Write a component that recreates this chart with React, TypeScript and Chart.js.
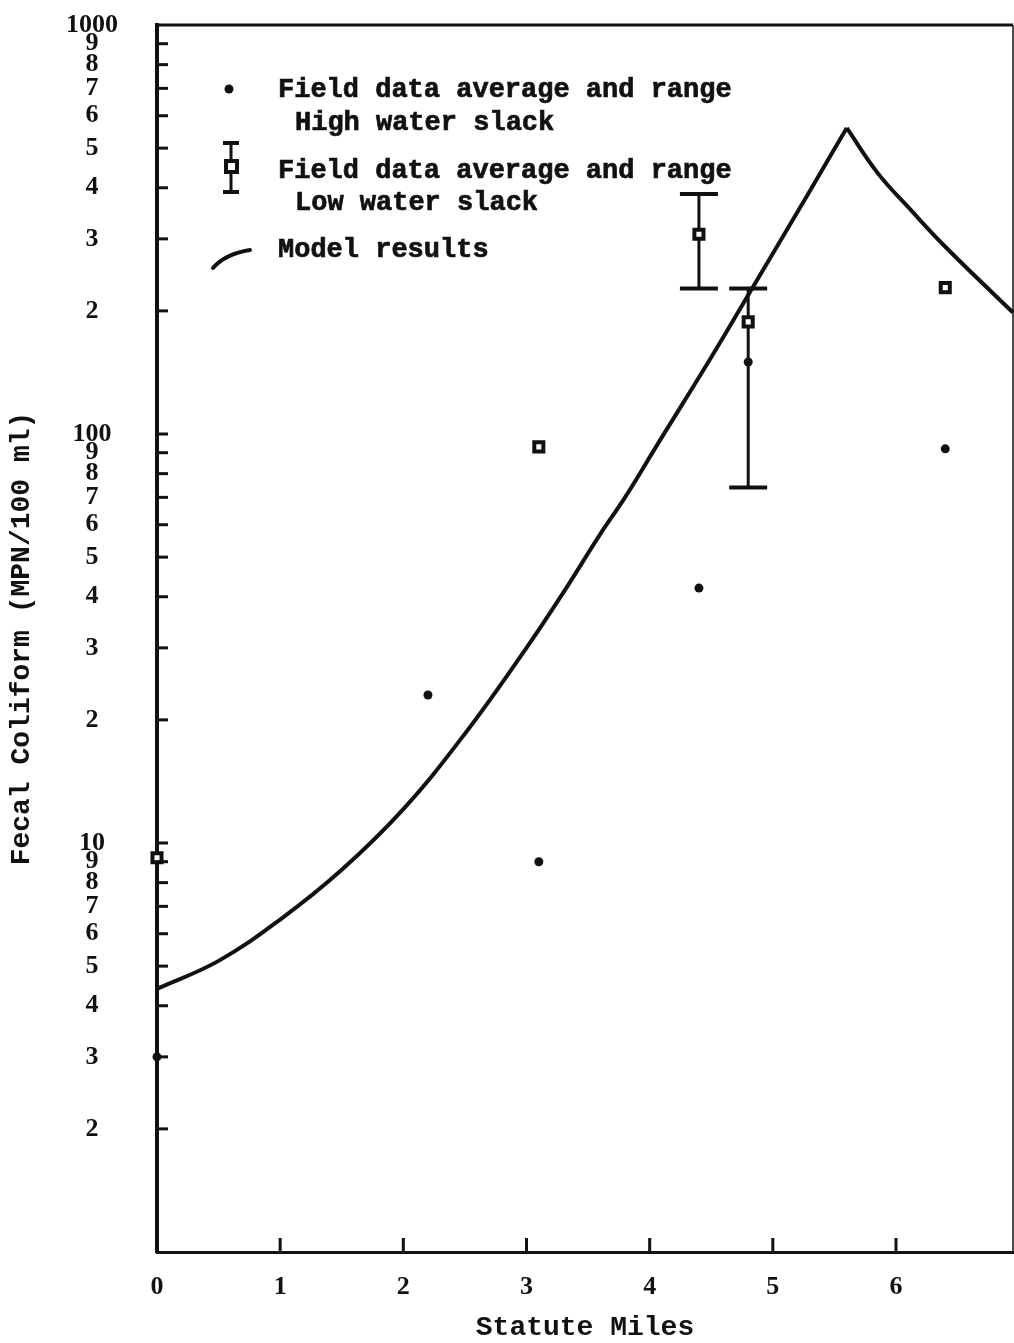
import React, { useEffect, useRef } from 'react';
import { Chart, registerables } from 'chart.js';

Chart.register(...registerables);

const INK = '#111111';

// Field data, high water slack (average values)
const highMiles = [0, 2.2, 3.1, 4.4, 4.8, 6.4];
const highColiform = [3, 23, 9, 42, 150, 92];

// Field data, low water slack (average, with sampled range where available)
const lowMiles = [0, 3.1, 4.4, 4.8, 6.4];
const lowColiform = [9.2, 93, 308, 188, 228];
const lowRangeMin: (number | null)[] = [null, null, 227, 74, null];
const lowRangeMax: (number | null)[] = [null, null, 386, 227, null];

// Model results along the estuary
const modelMiles = [0, 0.5, 1.0, 1.5, 2.0, 2.5, 3.0, 3.3, 3.6, 3.8, 4.07, 4.5, 4.84, 5.29, 5.6, 5.85, 6.12, 6.4, 6.95];
const modelColiform = [4.4, 5.15, 6.5, 8.6, 12.1, 18.5, 30, 41, 57, 70, 95, 154, 229, 388, 560, 435, 353, 287, 198];

// Axis ticks
const xTickValues = [0, 1, 2, 3, 4, 5, 6];
const xTickLabels = ['0', '1', '2', '3', '4', '5', '6'];
const yTickValues = [
  1, 2, 3, 4, 5, 6, 7, 8, 9,
  10, 20, 30, 40, 50, 60, 70, 80, 90,
  100, 200, 300, 400, 500, 600, 700, 800, 900,
  1000,
];
const yTickLabels = [
  '', '2', '3', '4', '5', '6', '7', '8', '9',
  '10', '2', '3', '4', '5', '6', '7', '8', '9',
  '100', '2', '3', '4', '5', '6', '7', '8', '9',
  '1000',
];

const toPoints = (xs: number[], ys: number[]) => xs.map((x, i) => ({ x, y: ys[i] }));

// The model curve has a sharp crest, so it is drawn as two smooth runs meeting at the maximum
const peakIndex = modelColiform.indexOf(Math.max(...modelColiform));
const modelRise = toPoints(modelMiles.slice(0, peakIndex + 1), modelColiform.slice(0, peakIndex + 1));
const modelFall = toPoints(modelMiles.slice(peakIndex), modelColiform.slice(peakIndex));

const TICK_FONT = { family: 'Liberation Serif', size: 26, weight: 'bold' as const, lineHeight: 1.2 };
const TITLE_FONT = { family: 'Liberation Mono', size: 28, weight: 'bold' as const, lineHeight: 1 };
const LEGEND_FONT = 'bold 27px "Liberation Mono"';

// Keep the plot edges where the layout padding puts them
const noLabelOverflow = (scale: any) => {
  scale.paddingTop = 0;
  scale.paddingBottom = 0;
  scale.paddingLeft = 0;
  scale.paddingRight = 0;
};

// Frame top/right edges and the inward tick marks
const framePlugin = {
  id: 'frameAndTicks',
  afterDraw(chart: any) {
    const { ctx, chartArea: a, scales } = chart;
    ctx.save();
    ctx.strokeStyle = INK;
    ctx.lineCap = 'butt';
    ctx.lineWidth = 3;
    ctx.beginPath();
    ctx.moveTo(a.left - 2, a.top);
    ctx.lineTo(a.right, a.top);
    ctx.stroke();
    ctx.lineWidth = 1.5;
    ctx.beginPath();
    ctx.moveTo(a.right, a.top);
    ctx.lineTo(a.right, a.bottom);
    ctx.stroke();

    ctx.lineWidth = 3;
    yTickValues.forEach((v) => {
      if (v === 1 || v === 1000) return;
      const y = scales.y.getPixelForValue(v);
      ctx.beginPath();
      ctx.moveTo(a.left, y);
      ctx.lineTo(a.left + 11, y);
      ctx.stroke();
    });
    xTickValues.forEach((v) => {
      if (v === 0) return;
      const x = scales.x.getPixelForValue(v);
      ctx.beginPath();
      ctx.moveTo(x, a.bottom);
      ctx.lineTo(x, a.bottom - 14);
      ctx.stroke();
    });
    ctx.restore();
  },
};

// Range bars for the low water slack averages
const rangePlugin = {
  id: 'lowWaterRange',
  beforeDatasetsDraw(chart: any) {
    const { ctx, scales } = chart;
    ctx.save();
    ctx.strokeStyle = INK;
    lowMiles.forEach((m, i) => {
      const lo = lowRangeMin[i];
      const hi = lowRangeMax[i];
      if (lo == null || hi == null) return;
      const x = scales.x.getPixelForValue(m);
      const yLo = scales.y.getPixelForValue(lo);
      const yHi = scales.y.getPixelForValue(hi);
      ctx.lineWidth = 3;
      ctx.beginPath();
      ctx.moveTo(x, yHi);
      ctx.lineTo(x, yLo);
      ctx.stroke();
      ctx.lineWidth = 4;
      ctx.beginPath();
      ctx.moveTo(x - 19, yHi);
      ctx.lineTo(x + 19, yHi);
      ctx.moveTo(x - 19, yLo);
      ctx.lineTo(x + 19, yLo);
      ctx.stroke();
    });
    ctx.restore();
  },
};

// Key in the upper left of the plot
const keyPlugin = {
  id: 'fieldKey',
  afterDraw(chart: any) {
    const { ctx, chartArea: a } = chart;
    const L = a.left;
    const T = a.top;
    ctx.save();
    ctx.fillStyle = INK;
    ctx.strokeStyle = INK;

    // high water dot
    ctx.beginPath();
    ctx.arc(L + 72, T + 64, 4.5, 0, Math.PI * 2);
    ctx.fill();

    // low water symbol with range
    const sx = L + 74;
    ctx.lineWidth = 3;
    ctx.beginPath();
    ctx.moveTo(sx, T + 118);
    ctx.lineTo(sx, T + 167);
    ctx.stroke();
    ctx.lineWidth = 4;
    ctx.beginPath();
    ctx.moveTo(sx - 8, T + 118);
    ctx.lineTo(sx + 8, T + 118);
    ctx.moveTo(sx - 8, T + 167);
    ctx.lineTo(sx + 8, T + 167);
    ctx.stroke();
    ctx.fillStyle = '#ffffff';
    ctx.fillRect(sx - 5, T + 136, 11, 11);
    ctx.strokeRect(sx - 5, T + 136, 11, 11);
    ctx.fillStyle = INK;

    // model line sample
    ctx.lineWidth = 4;
    ctx.lineCap = 'round';
    ctx.beginPath();
    ctx.moveTo(L + 56, T + 243);
    ctx.quadraticCurveTo(L + 68, T + 229, L + 93, T + 225);
    ctx.stroke();

    ctx.font = LEGEND_FONT;
    ctx.textBaseline = 'middle';
    ctx.textAlign = 'left';
    ctx.lineWidth = 0.7;
    const rows: [string, number, number][] = [
      ['Field data average and range', 121, 65],
      ['High water slack', 138, 98],
      ['Field data average and range', 121, 146],
      ['Low water slack', 138, 178],
      ['Model results', 121, 225],
    ];
    rows.forEach(([text, dx, dy]) => {
      ctx.fillText(text, L + dx, T + dy);
      ctx.strokeText(text, L + dx, T + dy);
    });
    ctx.restore();
  },
};

export default function App() {
  const canvasRef = useRef<HTMLCanvasElement | null>(null);

  useEffect(() => {
    if (!canvasRef.current) return;
    const chart = new Chart(canvasRef.current, {
      type: 'scatter',
      data: {
        datasets: [
          {
            label: 'Model results',
            data: modelRise,
            showLine: true,
            borderColor: INK,
            borderWidth: 4,
            pointRadius: 0,
            tension: 0.4,
            clip: false,
          },
          {
            label: 'Model results (after crest)',
            data: modelFall,
            showLine: true,
            borderColor: INK,
            borderWidth: 4,
            pointRadius: 0,
            tension: 0.4,
            clip: false,
          },
          {
            label: 'Field data average and range, Low water slack',
            data: toPoints(lowMiles, lowColiform),
            pointStyle: 'rect',
            pointRadius: 6.4,
            pointBorderWidth: 4,
            pointBackgroundColor: '#ffffff',
            pointBorderColor: INK,
            clip: false,
          },
          {
            label: 'Field data average and range, High water slack',
            data: toPoints(highMiles, highColiform),
            pointStyle: 'circle',
            pointRadius: 4.5,
            pointBorderWidth: 0,
            pointBackgroundColor: INK,
            clip: false,
          },
        ],
      } as any,
      options: {
        animation: false,
        responsive: false,
        events: [],
        layout: { autoPadding: false, padding: { top: 25, right: 1, bottom: 0, left: 0 } },
        plugins: {
          legend: { display: false },
          tooltip: { enabled: false },
        },
        scales: {
          x: {
            type: 'linear',
            min: 0,
            max: 6.95,
            afterBuildTicks: (scale: any) => {
              scale.ticks = xTickValues.map((value) => ({ value }));
            },
            afterFit: (scale: any) => {
              scale.height = 91;
              noLabelOverflow(scale);
            },
            grid: { display: false, drawTicks: false },
            border: { display: true, width: 3, color: INK },
            ticks: {
              autoSkip: false,
              maxRotation: 0,
              padding: 20,
              color: INK,
              font: TICK_FONT,
              callback: (_v: any, i: number) => xTickLabels[i],
            },
            title: {
              display: true,
              text: 'Statute Miles',
              color: INK,
              font: TITLE_FONT,
              padding: { top: 0, bottom: 1 },
            },
          },
          y: {
            type: 'logarithmic',
            min: 1,
            max: 1000,
            afterBuildTicks: (scale: any) => {
              scale.ticks = yTickValues.map((value) => ({ value }));
            },
            afterFit: (scale: any) => {
              scale.width = 157;
              noLabelOverflow(scale);
            },
            grid: { display: false, drawTicks: false },
            border: { display: true, width: 4, color: INK },
            ticks: {
              autoSkip: false,
              crossAlign: 'center',
              padding: 39,
              color: INK,
              font: TICK_FONT,
              callback: (_v: any, i: number) => yTickLabels[i],
            },
            title: {
              display: true,
              text: 'Fecal Coliform (MPN/100 ml)',
              color: INK,
              font: TITLE_FONT,
              padding: { top: 8, bottom: 0 },
            },
          },
        },
      } as any,
      plugins: [rangePlugin, framePlugin, keyPlugin],
    });
    return () => chart.destroy();
  }, []);

  return (
    <div style={{ position: 'absolute', left: 0, top: 0, width: 1014, height: 1343, background: '#ffffff' }}>
      <canvas ref={canvasRef} width={1014} height={1343} />
    </div>
  );
}
